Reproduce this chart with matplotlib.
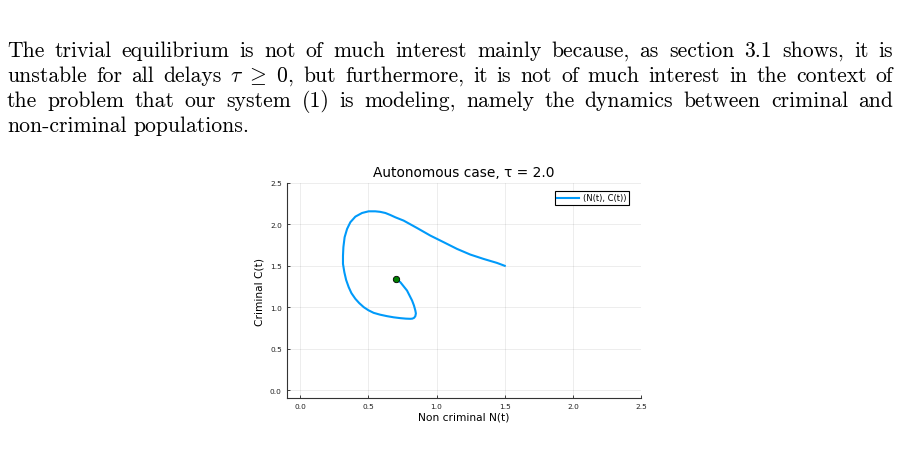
import numpy as np
import matplotlib
matplotlib.use("Agg")
import matplotlib.pyplot as plt

# trajectory
n_vals = [1.50, 1.443, 1.345, 1.247, 1.150, 1.052, 0.954, 0.856, 0.758, 0.697, 0.660, 0.624,
          0.585, 0.550, 0.501, 0.453, 0.404, 0.367, 0.343, 0.325, 0.316, 0.313, 0.313,
          0.323, 0.336, 0.355, 0.375, 0.404, 0.432, 0.465, 0.50, 0.538, 0.585, 0.636,
          0.685, 0.734, 0.775, 0.807, 0.822, 0.835, 0.844, 0.848, 0.844, 0.834, 0.820,
          0.783, 0.734, 0.700]
c_vals = [1.50, 1.535, 1.583, 1.636, 1.704, 1.785, 1.865, 1.957, 2.046, 2.086, 2.114, 2.138,
          2.152, 2.158, 2.158, 2.138, 2.094, 2.026, 1.945, 1.845, 1.725, 1.62, 1.523,
          1.423, 1.33, 1.242, 1.17, 1.101, 1.05, 1.001, 0.963, 0.932, 0.91, 0.892,
          0.878, 0.868, 0.862, 0.860, 0.862, 0.872, 0.892, 0.925, 0.960, 1.02, 1.081,
          1.201, 1.302, 1.342]
eq_point = (0.700, 1.346)

xticks = [0.0, 0.5, 1.0, 1.5, 2.0, 2.5]
yticks = [0.0, 0.5, 1.0, 1.5, 2.0, 2.5]

paragraph = [
    "The trivial equilibrium is not of much interest mainly because, as section 3.1 shows, it is",
    r"unstable for all delays $\tau\ \geq\ 0$, but furthermore, it is not of much interest in the context of",
    "the problem that our system (1) is modeling, namely the dynamics between criminal and",
    "non-criminal populations.",
]

plt.rcParams["mathtext.fontset"] = "cm"
W, H = 900, 456
fig = plt.figure(figsize=(W / 100, H / 100), dpi=100)

# paragraph text, justified like the latex page
fs_text = 15.6
left_px, right_px = 7, 893
base_px = [56.7, 81.7, 106.7, 131.7]
renderer = fig.canvas.get_renderer()
for i, line in enumerate(paragraph):
    if "$" in line:
        pre, rest = line.split("$", 1)
        mth, post = rest.split("$", 1)
        words = pre.split() + ["$" + mth + "$" + post.split()[0]] + post.split()[1:]
    else:
        words = line.split()
    y = 1 - base_px[i] / H
    objs = [fig.text(0, y, w, fontsize=fs_text, family="cmr10", va="baseline", ha="left")
            for w in words]
    widths = [t.get_window_extent(renderer).width for t in objs]
    if i < len(paragraph) - 1:
        gap = (right_px - left_px - sum(widths)) / (len(words) - 1)
    else:
        gap = fs_text * 100 / 72 * 0.333
    x = left_px
    for t, w in zip(objs, widths):
        t.set_x(x / W)
        x += w + gap

# the chart
ax = fig.add_axes([286.7 / W, 1 - 399.3 / H, (641 - 286.7) / W, (399.3 - 184) / H])
ax.plot(n_vals, c_vals, color="#009AFA", lw=1.5, label="(N(t), C(t))", zorder=3,
        solid_joinstyle="round")
ax.plot(eq_point[0], eq_point[1], "o", color="#008000", mec="black", mew=0.6, ms=4.6, zorder=4)

ax.set_xlim(-0.1, 2.5)
ax.set_ylim(-0.1, 2.5)
ax.set_xticks(xticks)
ax.set_yticks(yticks)
ax.set_xticklabels([f"{v:.1f}" for v in xticks])
ax.set_yticklabels([f"{v:.1f}" for v in yticks])
ax.grid(True, color="black", alpha=0.1, lw=0.5)
ax.tick_params(direction="in", length=2.5, width=0.6, labelsize=5.3, pad=3.5, colors="#222222")
for s in ["top", "right"]:
    ax.spines[s].set_visible(False)
for s in ["left", "bottom"]:
    ax.spines[s].set_linewidth(0.8)
    ax.spines[s].set_color("#333333")

ax.set_title("Autonomous case, τ = 2.0", fontsize=9.9, pad=5)
ax.set_xlabel("Non criminal N(t)", fontsize=7.7, labelpad=2)
ax.set_ylabel("Criminal C(t)", fontsize=7.7, labelpad=4)

leg = ax.legend(loc="upper right", bbox_to_anchor=(0.966, 0.963), fontsize=6, fancybox=False,
                framealpha=1, handlelength=2.6, handletextpad=0.5, borderpad=0.3,
                borderaxespad=0)
leg.get_frame().set_edgecolor("black")
leg.get_frame().set_linewidth(0.8)

fig.savefig("out.png", dpi=100)
